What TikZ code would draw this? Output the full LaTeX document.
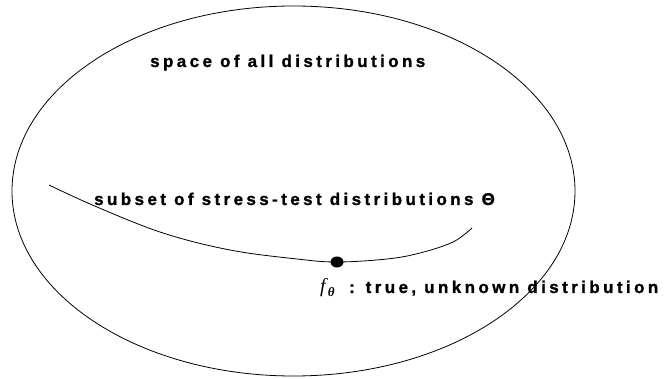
\documentclass[tikz,border=0pt]{standalone}
\usepackage{fontspec}
\setmainfont{Liberation Sans}
\newfontfamily\lblfont[LetterSpace=20,FakeBold=1.2]{Liberation Sans Bold}
\newfontfamily\seriffont{Liberation Serif}
\begin{document}
\begin{tikzpicture}[x=1pt,y=-1pt,
  lbl/.style={inner sep=0pt, font=\fontsize{17}{20}\lblfont},
  thin line/.style={line width=0.8pt, black}]
\useasboundingbox (0,0) rectangle (670,379);
% space of all distributions
\draw[thin line] (293.5,191) ellipse [x radius=281.5, y radius=185];
\node[lbl, anchor=base west] (space) at (150,67) {space of all distributions};
% subset curve
\draw[thin line] plot[smooth, tension=0.6] coordinates {(49,185) (97,207) (163,233) (230,250) (297,259) (337,262) (387,259) (420,253) (453,242) (472,228)};
\node[lbl, anchor=base west] (subset) at (94,205) {subset of stress-test distributions Θ};
% true distribution
\node[fill=black, circle, inner sep=0pt, minimum width=13pt, yscale=0.85] (dot) at (337,262) {};
\node[inner sep=0pt, anchor=base west] (f) at (320,293) {\fontsize{20}{21}\seriffont\itshape f\kern2pt\raisebox{-4pt}{\fontsize{13}{13}\seriffont\bfseries\itshape θ}};
\node[lbl, anchor=base west] (lab) at (349,293) {: true, unknown distribution};
\end{tikzpicture}
\end{document}
